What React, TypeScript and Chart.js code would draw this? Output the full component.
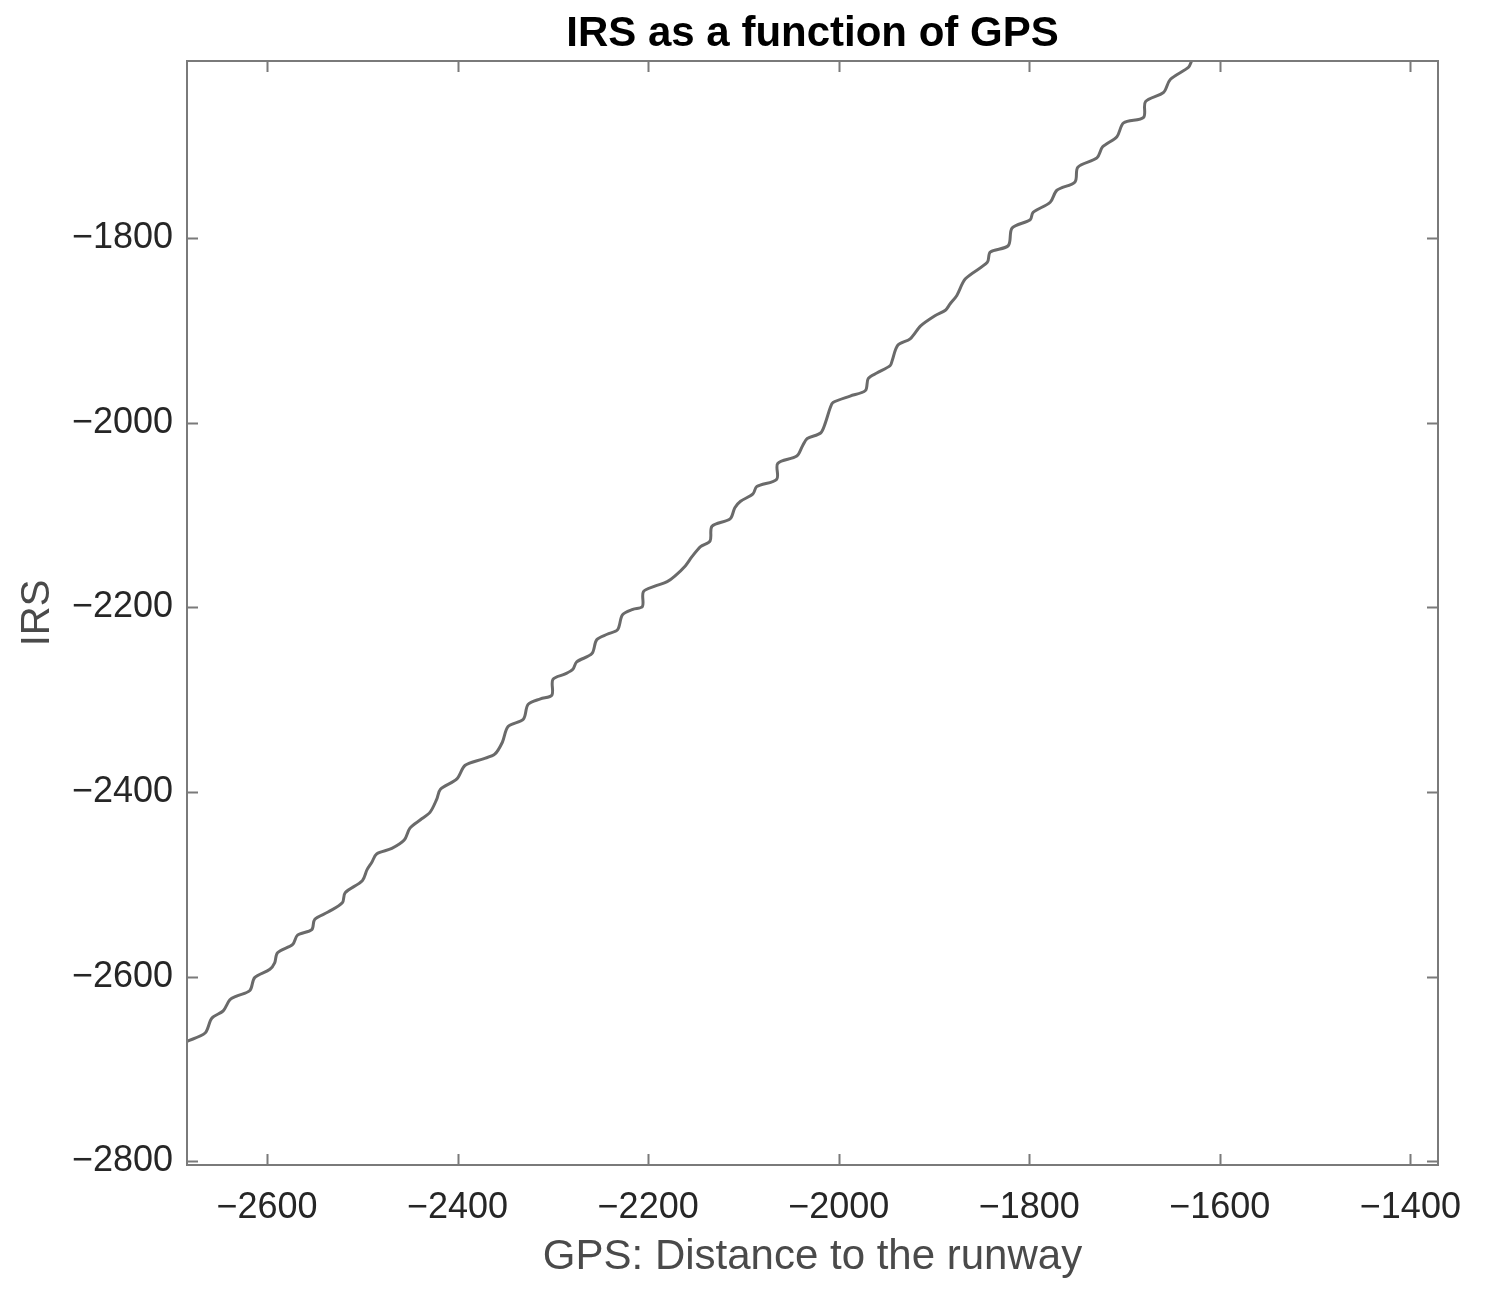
import React, { useEffect, useRef } from "react";
import { Chart, registerables } from "chart.js";

Chart.register(...registerables);

const TITLE = "IRS as a function of GPS";
const X_LABEL = "GPS: Distance to the runway";
const Y_LABEL = "IRS";

const X_TICKS = [-2600, -2400, -2200, -2000, -1800, -1600, -1400];
const Y_TICKS = [-2800, -2600, -2400, -2200, -2000, -1800];
const X_MIN = -2684;
const X_MAX = -1371;
const Y_MIN = -2804;
const Y_MAX = -1608;

const gps = [
  -2684, -2665, -2658, -2646, -2639, -2632, -2618, -2613, -2597, -2592, -2589,
  -2573, -2568, -2553, -2550, -2536, -2521, -2518, -2500, -2495, -2490, -2485,
  -2469, -2456, -2450, -2439, -2429, -2422, -2418, -2401, -2392, -2373, -2361,
  -2353, -2347, -2331, -2326, -2313, -2301, -2300, -2287, -2279, -2275, -2259,
  -2254, -2243, -2232, -2227, -2216, -2206, -2205, -2193, -2180, -2172, -2161,
  -2154, -2145, -2135, -2133, -2114, -2109, -2103, -2090, -2086, -2065, -2064,
  -2044, -2038, -2033, -2019, -2014, -2009, -2006, -1988, -1972, -1969, -1960,
  -1946, -1944, -1938, -1925, -1914, -1899, -1888, -1883, -1876, -1867, -1844,
  -1841, -1822, -1818, -1799, -1796, -1778, -1771, -1752, -1749, -1729, -1723,
  -1708, -1701, -1680, -1678, -1659, -1652, -1633, -1630, -1627,
];

const irs = [
  -2670, -2661, -2645, -2637, -2625, -2621, -2615, -2601, -2592, -2585, -2574,
  -2565, -2555, -2549, -2538, -2530, -2520, -2509, -2496, -2484, -2476, -2467,
  -2461, -2452, -2439, -2430, -2422, -2408, -2397, -2386, -2371, -2364, -2359,
  -2346, -2329, -2321, -2305, -2299, -2295, -2278, -2272, -2267, -2259, -2250,
  -2235, -2229, -2224, -2208, -2202, -2199, -2183, -2177, -2172, -2166, -2155,
  -2145, -2134, -2128, -2112, -2104, -2092, -2085, -2077, -2069, -2061, -2044,
  -2036, -2025, -2017, -2011, -2000, -1984, -1978, -1971, -1965, -1952, -1946,
  -1938, -1933, -1916, -1909, -1895, -1884, -1878, -1871, -1862, -1844, -1826,
  -1815, -1808, -1789, -1780, -1772, -1761, -1748, -1739, -1723, -1713, -1701,
  -1690, -1675, -1669, -1652, -1642, -1628, -1615, -1609, -1601,
];

const FONT = "'Liberation Sans', Arial, Helvetica, sans-serif";
const fmt = (v: number) => (v < 0 ? "\u2212" + Math.abs(v) : String(v));

const framePlugin = {
  id: "matlabFrame",
  afterDraw(chart: any) {
    const { ctx, chartArea } = chart;
    const { left, right, top, bottom } = chartArea;
    const xs = chart.scales.x;
    const ys = chart.scales.y;
    const len = 11;
    ctx.save();
    ctx.strokeStyle = "#7a7a7a";
    ctx.lineWidth = 2;
    ctx.strokeRect(left, top, right - left, bottom - top);
    ctx.beginPath();
    for (const t of xs.ticks) {
      const px = Math.round(xs.getPixelForValue(t.value)) + 0.5;
      ctx.moveTo(px, bottom);
      ctx.lineTo(px, bottom - len);
      ctx.moveTo(px, top);
      ctx.lineTo(px, top + len);
    }
    for (const t of ys.ticks) {
      const py = Math.round(ys.getPixelForValue(t.value)) + 0.5;
      ctx.moveTo(left, py);
      ctx.lineTo(left + len, py);
      ctx.moveTo(right, py);
      ctx.lineTo(right - len, py);
    }
    ctx.stroke();
    ctx.restore();
  },
};

export default function App() {
  const ref = useRef<HTMLCanvasElement | null>(null);

  useEffect(() => {
    if (!ref.current) return;
    const points = gps.map((g, i) => ({ x: g, y: irs[i] }));
    const chart = new Chart(ref.current, {
      type: "line",
      data: {
        datasets: [
          {
            data: points,
            borderColor: "#6a6a6a",
            borderWidth: 3,
            pointRadius: 0,
            tension: 0.3,
            fill: false,
          },
        ],
      },
      options: {
        animation: false,
        responsive: false,
        devicePixelRatio: 1,
        layout: { padding: { left: 0, right: 55, top: 0, bottom: 0 } },
        plugins: {
          legend: { display: false },
          tooltip: { enabled: false },
          title: {
            display: true,
            text: TITLE,
            fullSize: false,
            color: "#000000",
            font: { family: FONT, size: 42, weight: "bold", lineHeight: 1.2 },
            padding: { top: 9, bottom: 1.6 },
          },
        },
        scales: {
          x: {
            type: "linear",
            min: X_MIN,
            max: X_MAX,
            grid: { display: false },
            border: { display: false },
            afterBuildTicks: (s: any) => {
              s.ticks = X_TICKS.map((v) => ({ value: v }));
            },
            afterFit: (s: any) => {
              s.height = 143;
            },
            ticks: {
              color: "#262626",
              font: { family: FONT, size: 36 },
              padding: 13,
              maxRotation: 0,
              autoSkip: false,
              callback: (v: any) => fmt(Number(v)),
            },
            title: {
              display: true,
              text: X_LABEL,
              color: "#4a4a4a",
              font: { family: FONT, size: 42, lineHeight: 1.2 },
              padding: { top: 0, bottom: 25 },
            },
          },
          y: {
            type: "linear",
            min: Y_MIN,
            max: Y_MAX,
            grid: { display: false },
            border: { display: false },
            afterBuildTicks: (s: any) => {
              s.ticks = Y_TICKS.map((v) => ({ value: v }));
            },
            afterFit: (s: any) => {
              s.width = 187;
            },
            ticks: {
              color: "#262626",
              font: { family: FONT, size: 36 },
              padding: 6,
              autoSkip: false,
              callback: (v: any) => fmt(Number(v)),
            },
            title: {
              display: true,
              text: Y_LABEL,
              color: "#4a4a4a",
              font: { family: FONT, size: 40, lineHeight: 1.2 },
              padding: { top: 14, bottom: 0 },
            },
          },
        },
      },
      plugins: [framePlugin],
    });
    return () => chart.destroy();
  }, []);

  return (
    <div style={{ position: "absolute", left: 0, top: 0, width: 1493, height: 1308, background: "#ffffff" }}>
      <canvas ref={ref} width={1493} height={1308} style={{ display: "block" }} />
    </div>
  );
}
